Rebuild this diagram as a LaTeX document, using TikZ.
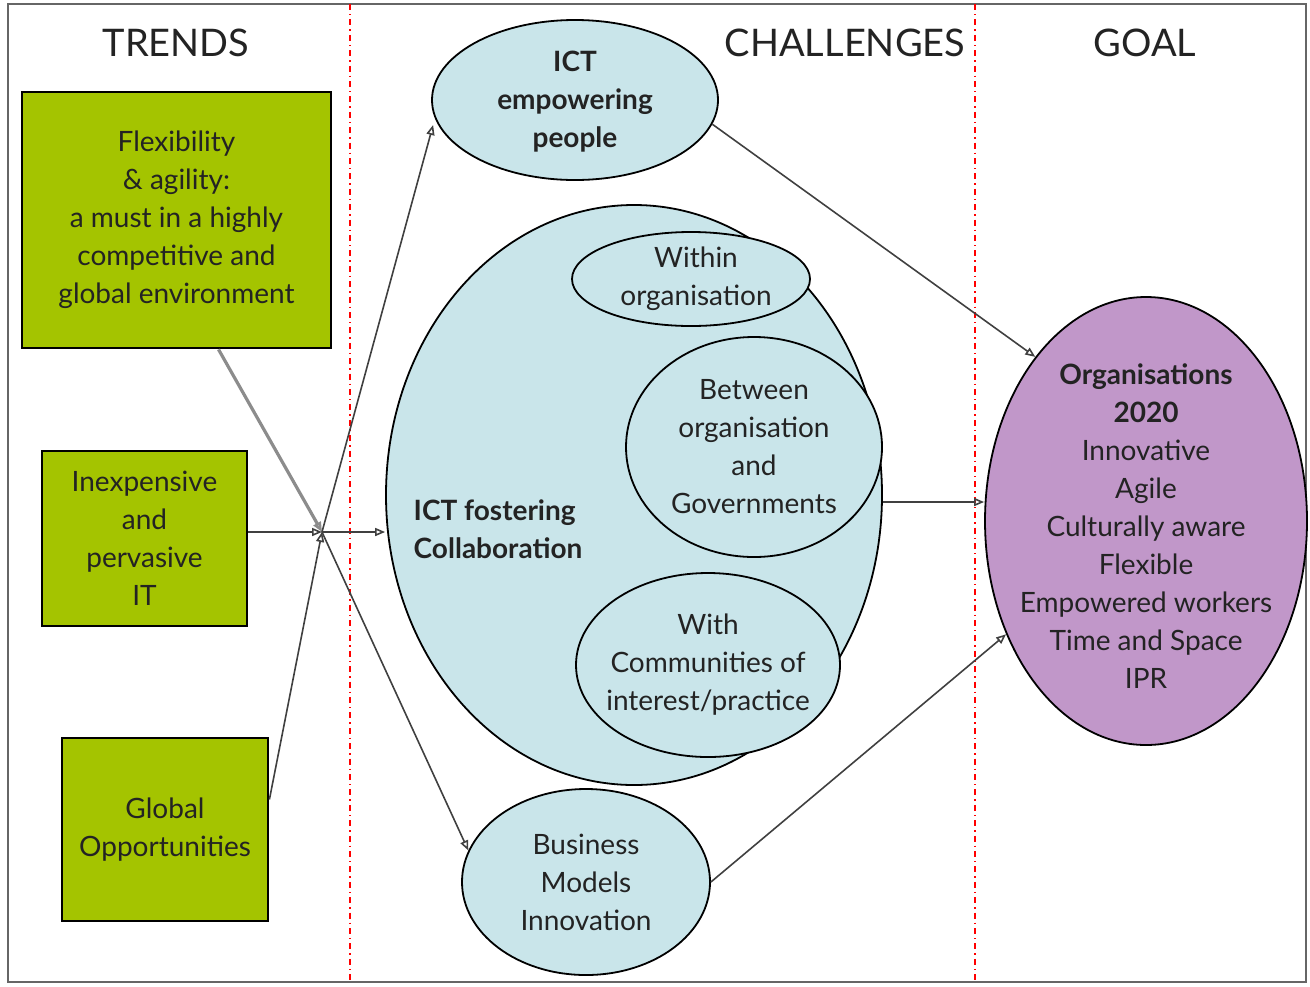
\documentclass[tikz,border=0pt]{standalone}
\usepackage{fontspec}
\setmainfont{Lato}
\usetikzlibrary{arrows.meta,shapes.geometric,calc}
\definecolor{trendgreen}{RGB}{164,196,0}
\definecolor{challblue}{RGB}{201,229,234}
\definecolor{goalpurple}{RGB}{193,151,201}
\definecolor{txt}{RGB}{35,35,35}

\tikzset{
	trendbox/.style={draw=black,line width=1.4pt,fill=trendgreen,align=center,text=txt,font=\fontsize{14}{19}\selectfont},
	blob/.style={ellipse,draw=black,line width=0.9pt,fill=challblue,inner sep=0pt},
	blobtext/.style={align=center,text=txt,font=\fontsize{14}{19}\selectfont},
	header/.style={text=txt,font=\fontsize{19}{22}\selectfont},
	link/.style={draw=black!75,line width=0.8pt,-{Triangle[open,length=5pt,width=4pt]}},
}

\begin{document}
\begin{tikzpicture}[x=0.5pt,y=-0.5pt]
	\useasboundingbox (0,0) rectangle (1310,986);
	\draw[black!60,line width=1pt] (8,4) rectangle (1306,982);
	\foreach \x in {350,975} {
		\draw[red,line width=0.7pt,dash dot] (\x,4) -- (\x,982);
	}
	\node[header] (trends) at (176,43) {TRENDS};
	\node[header] (challenges) at (845,43) {CHALLENGES};
	\node[header] (goal) at (1145,43) {GOAL};

	% trends
	\node[trendbox,minimum width=154.5pt,minimum height=128pt] (flex) at (176.5,220)
		{Flexibility\\ \& agility:\\ a must in a highly\\ competitive and\\ global environment};
	\node[trendbox,minimum width=102.5pt,minimum height=87.5pt] (cheap) at (144.5,538.5)
		{Inexpensive\\ and\\ pervasive\\ IT};
	\node[trendbox,minimum width=103pt,minimum height=91.5pt] (global) at (165,829.5)
		{Global\\ Opportunities};

	% challenges
	\node[blob,minimum width=248pt,minimum height=290pt] (collab) at (634,495) {};
	\node[blobtext,font=\fontsize{14}{19}\selectfont\bfseries,align=left] (collabtxt) at (498,529)
		{ICT fostering\\ Collaboration};
	\node[blob,minimum width=119pt,minimum height=47pt] (within) at (691,279) {};
	\node[blobtext] (withintxt) at (696,279) {Within\\ organisation};
	\node[blob,minimum width=128pt,minimum height=110pt] (between) at (754,447) {};
	\node[blobtext] (betweentxt) at (between) {Between\\ organisation\\ and\\ Governments};
	\node[blob,minimum width=132pt,minimum height=92pt] (communities) at (708,665) {};
	\node[blobtext] (communitiestxt) at (communities) {With\\ Communities of\\ interest/practice};
	\node[blob,minimum width=143pt,minimum height=80pt] (people) at (575,100) {};
	\node[blobtext,font=\fontsize{14}{19}\selectfont\bfseries] (peopletxt) at (575,102) {ICT\\ empowering\\ people};
	\node[blob,minimum width=124pt,minimum height=93pt] (business) at (586,882) {};
	\node[blobtext] (businesstxt) at (business) {Business\\ Models\\ Innovation};

	% goal
	\node[blob,fill=goalpurple,minimum width=161pt,minimum height=224pt] (org) at (1146,521) {};
	\node[blobtext] (orgtxt) at (1146,526)
		{\textbf{Organisations}\\ \textbf{2020}\\ Innovative\\ Agile\\ Culturally aware\\ Flexible\\ Empowered workers\\ Time and Space\\ IPR};

	% links
	\coordinate (hub) at (322,532);
	\coordinate (collabout) at ($(collab.east)+(0,7)$);
	\draw[link,black!45,line width=1.6pt] ($(flex.south)+(42,0)$) -- (hub);
	\draw[link] (cheap.east |- hub) -- (hub);
	\draw[link] ($(global.east)+(0,-30)$) -- (hub);
	\draw[link] (hub) -- ($(people.west)+(2,25)$);
	\draw[link] (hub) -- (hub -| collab.west);
	\draw[link] (hub) -- (business.165);
	\draw[link] (people.-10) -- (org.124);
	\draw[link] (collabout) -- (collabout -| org.west);
	\draw[link] (business.east) -- (org.219);
\end{tikzpicture}
\end{document}
